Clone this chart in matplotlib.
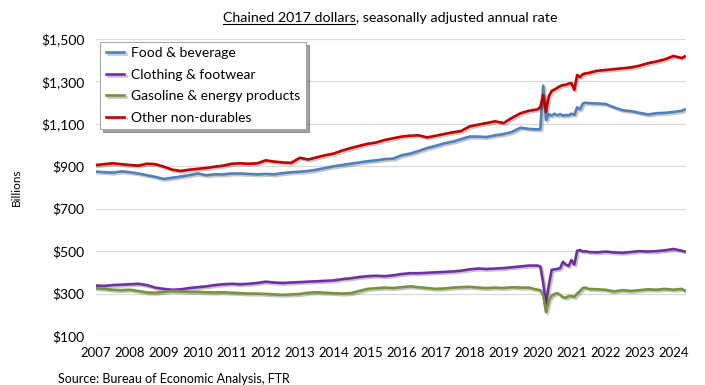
import matplotlib
matplotlib.use("Agg")
import matplotlib.pyplot as plt
import matplotlib.patheffects as pe
from matplotlib.lines import Line2D
import pandas as pd

plt.rcParams["font.family"] = ["Lato", "DejaVu Sans"]

# Observation dates: quarterly to 2019, monthly through the 2020-21 swings, quarterly after
dates = (list(pd.date_range("2007-01-01", "2019-10-01", freq="QS"))
         + list(pd.date_range("2020-01-01", "2021-06-01", freq="MS"))
         + list(pd.date_range("2021-07-01", "2024-04-01", freq="QS"))
         + [pd.Timestamp("2024-05-01")])

# Billions of chained 2017 dollars
food = [875, 872, 870, 876, 872, 866, 858, 850, 840, 846, 852, 858,
        866, 858, 862, 862, 866, 866, 864, 862, 864, 862, 868, 872,
        874, 878, 884, 892, 900, 906, 912, 918, 924, 928, 934, 936,
        952, 960, 972, 986, 996, 1008, 1016, 1028, 1040, 1040, 1038, 1046,
        1052, 1062, 1082, 1076,
        1074, 1076, 1280, 1118, 1146, 1138, 1148, 1140, 1146, 1138, 1142, 1140,
        1148, 1142, 1178, 1168, 1196, 1200,
        1198, 1196, 1194, 1178, 1164, 1160, 1152, 1144, 1150, 1152, 1156, 1162,
        1168]

clothing = [338, 336, 340, 342, 344, 346, 340, 328, 322, 318, 320, 326,
            330, 334, 340, 344, 346, 344, 346, 350, 356, 352, 350, 352,
            354, 356, 358, 360, 362, 368, 372, 378, 382, 384, 382, 386,
            392, 396, 396, 398, 400, 402, 404, 408, 414, 418, 416, 418,
            420, 424, 428, 432,
            432, 428, 350, 252, 340, 412, 414, 416, 420, 450, 436, 430,
            458, 436, 502, 505, 498, 500,
            496, 494, 498, 494, 492, 496, 500, 498, 500, 504, 510, 502,
            498]

gasoline = [325, 322, 318, 316, 318, 312, 305, 304, 308, 312, 310, 308,
            308, 306, 305, 306, 304, 302, 300, 300, 298, 296, 294, 296,
            298, 304, 306, 304, 302, 300, 302, 312, 322, 325, 328, 326,
            330, 334, 330, 326, 322, 324, 328, 330, 332, 328, 326, 328,
            326, 330, 328, 328,
            318, 316, 292, 212, 268, 290, 298, 302, 294, 282, 280, 288,
            288, 284, 300, 312, 326, 328,
            322, 320, 318, 310, 316, 312, 316, 320, 318, 322, 318, 322,
            314]

other = [906, 910, 914, 910, 906, 903, 912, 910, 898, 884, 878, 884,
         888, 892, 898, 903, 912, 914, 912, 914, 928, 922, 918, 916,
         940, 932, 942, 952, 960, 974, 986, 996, 1006, 1012, 1024, 1032,
         1040, 1044, 1046, 1036, 1044, 1052, 1060, 1066, 1088, 1096, 1104, 1112,
         1104, 1128, 1150, 1162,
         1168, 1180, 1236, 1157, 1230, 1255, 1262, 1270, 1278, 1283, 1284, 1290,
         1292, 1260, 1330, 1320, 1334, 1338,
         1340, 1350, 1354, 1358, 1362, 1366, 1374, 1386, 1394, 1404, 1420, 1410,
         1418]

series_names = ["Food & beverage", "Clothing & footwear",
                "Gasoline & energy products", "Other non-durables"]
colors = ["#4F81BD", "#7030A0", "#77933C", "#C00000"]
years = list(range(2007, 2025))
yticks = [100, 300, 500, 700, 900, 1100, 1300, 1500]

# decimal year positions
xs = [d.year + (d.month - 1) / 12 for d in dates]

fig = plt.figure(figsize=(7.05, 3.85), dpi=100)
ax = fig.add_axes([0.136, 0.1273, 0.837, 0.7714])

shadow = [pe.SimpleLineShadow(offset=(1.2, -1.2), alpha=0.22, shadow_color="black"),
          pe.Normal()]
for vals, name, c in zip([food, clothing, gasoline, other], series_names, colors):
    ax.plot(xs, vals, color=c, lw=1.9, label=name, path_effects=shadow,
            solid_joinstyle="round")

ax.set_xlim(2007, 2024.37)
ax.set_ylim(100, 1500)
ax.set_yticks(yticks)
ax.set_yticklabels([f"${v:,}" for v in yticks])
ax.set_xticks(years)
ax.set_xticklabels([str(y) for y in years])
ax.tick_params(length=0, labelsize=10, colors="black")
ax.tick_params(axis="x", labelsize=9.5, pad=8)
ax.tick_params(axis="y", pad=8)
for s in ax.spines.values():
    s.set_visible(False)
ax.grid(axis="y", color="#D9D9D9", lw=0.9)
ax.set_axisbelow(True)
ax.set_ylabel("Billions", fontsize=8.5, labelpad=14)

leg = ax.legend(loc="upper left", bbox_to_anchor=(0.003, 1.0), fontsize=10,
                frameon=True, fancybox=False, shadow=True, handlelength=1.3,
                handletextpad=0.5, labelspacing=0.68, borderpad=0.4,
                borderaxespad=0.2)
leg.get_frame().set_edgecolor("#A6A6A6")
leg.get_frame().set_linewidth(0.8)

# title with the first phrase underlined
part = "Chained 2017 dollars"
full = part + ", seasonally adjusted annual rate"
ty = 0.944
t = fig.text(0.553, ty, full, ha="center", va="baseline", fontsize=10.3)
fig.canvas.draw()
bb = t.get_window_extent()
tmp = fig.text(0, 0, part, fontsize=10.3)
w = tmp.get_window_extent(fig.canvas.get_renderer()).width
tmp.remove()
W, H = fig.bbox.width, fig.bbox.height
uy = ty - 2.5 / H
fig.add_artist(Line2D([bb.x0 / W, (bb.x0 + w) / W], [uy, uy],
                      color="black", lw=0.8, transform=fig.transFigure))

fig.text(0.082, 0.016, "Source: Bureau of Economic Analysis, FTR",
         fontsize=9, va="center", ha="left")

fig.savefig("out.png", dpi=100)
